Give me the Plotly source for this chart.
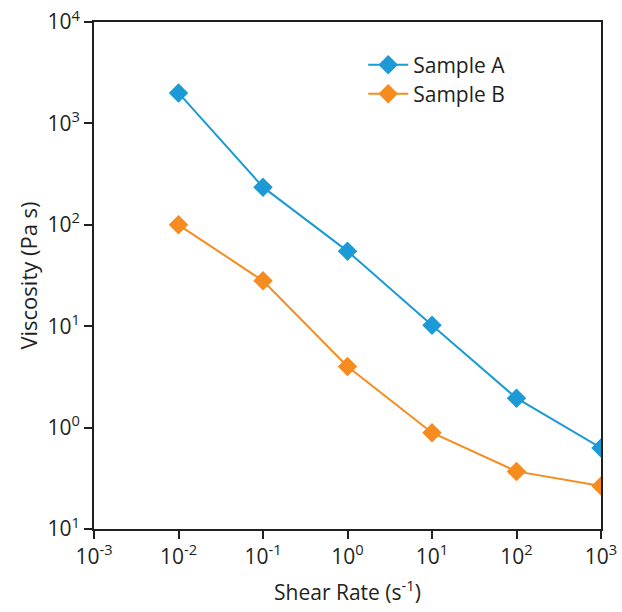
import plotly.graph_objects as go

shear_rate = [0.01, 0.1, 1, 10, 100, 1000]
sample_a = [2000, 235, 55, 10.2, 1.95, 0.63]
sample_b = [100, 28, 4.0, 0.89, 0.37, 0.265]

x_tickvals = [1e-3, 1e-2, 1e-1, 1, 10, 100, 1000]
x_ticktext = ["10<sup>-3</sup>", "10<sup>-2</sup>", "10<sup>-1</sup>", "10<sup>0</sup>",
              "10<sup>1</sup>", "10<sup>2</sup>", "10<sup>3</sup>"]
y_tickvals = [0.1, 1, 10, 100, 1000, 10000]
y_ticktext = ["10<sup>1</sup>", "10<sup>0</sup>", "10<sup>1</sup>", "10<sup>2</sup>",
              "10<sup>3</sup>", "10<sup>4</sup>"]

blue = "#1b9ad6"
orange = "#f68b1f"
ink = "#231f20"
font = "'Open Sans', sans-serif"

fig = go.Figure()
fig.add_trace(go.Scatter(x=shear_rate, y=sample_a, name="Sample A", mode="lines+markers",
                         line=dict(color=blue, width=2),
                         marker=dict(symbol="diamond", size=15, color=blue),
                         legend="legend", showlegend=True))
fig.add_trace(go.Scatter(x=shear_rate, y=sample_b, name="Sample B", mode="lines+markers",
                         line=dict(color=orange, width=2),
                         marker=dict(symbol="diamond", size=15, color=orange),
                         legend="legend2", showlegend=True))

axis_common = dict(showline=True, linecolor=ink, linewidth=2, mirror=True,
                   ticks="outside", ticklen=8, tickwidth=2, tickcolor=ink,
                   showgrid=False, zeroline=False, automargin=False,
                   ticklabeloverflow="allow",
                   tickfont=dict(size=21, color=ink, family=font))

fig.update_xaxes(type="log", range=[-3, 3], tickvals=x_tickvals, ticktext=x_ticktext,
                 title=dict(text="Shear Rate (s<sup>-1</sup>)", font=dict(size=21, color=ink, family=font),
                            standoff=16),
                 **axis_common)
fig.update_yaxes(type="log", range=[-1, 4], tickvals=y_tickvals, ticktext=y_ticktext,
                 title=dict(text="Viscosity (Pa s)", font=dict(size=22, color=ink, family=font),
                            standoff=4),
                 **axis_common)

legend_common = dict(xanchor="left", yanchor="middle",
                     font=dict(size=21, color=ink, family=font),
                     bgcolor="rgba(0,0,0,0)", itemwidth=40)

fig.update_layout(
    width=622, height=612,
    margin=dict(l=94, r=21, t=22, b=83),
    plot_bgcolor="white", paper_bgcolor="white",
    font=dict(family=font, color=ink),
    showlegend=True,
    legend=dict(x=0.531, y=0.915, **legend_common),
    legend2=dict(x=0.531, y=0.858, **legend_common),
)

fig.write_html("out.html",
               config={"displayModeBar": False},
               post_script="document.body.style.margin='0';document.body.style.overflow='hidden';")
